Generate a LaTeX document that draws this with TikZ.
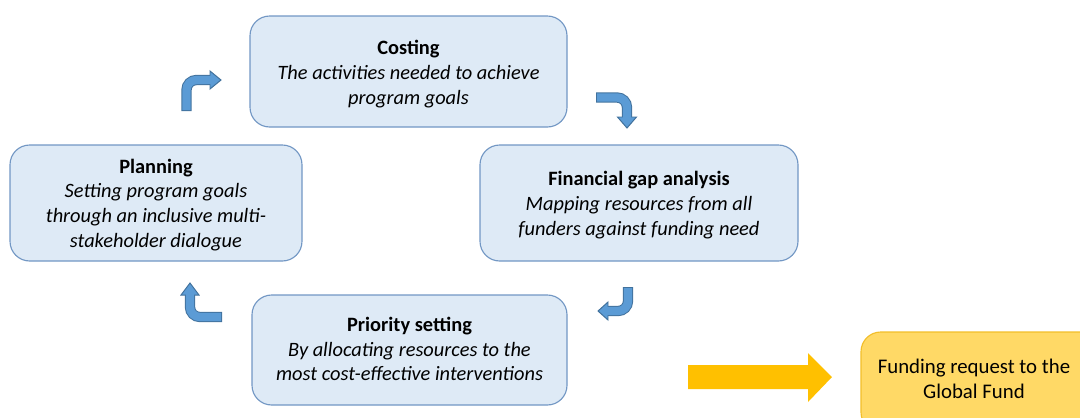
\documentclass[tikz,border=0pt]{standalone}
\usepackage{fontspec}
\setmainfont{Carlito}
\usepackage{xcolor}
\usetikzlibrary{calc,positioning}
\definecolor{stagefill}{HTML}{DEEAF6}
\definecolor{stageline}{HTML}{7297C4}
\definecolor{bendfill}{HTML}{5B9BD5}
\definecolor{bendline}{HTML}{41719C}
\definecolor{reqfill}{HTML}{FFD966}
\definecolor{reqline}{HTML}{F2BE2A}
\definecolor{reqarrow}{HTML}{FFC000}

\tikzset{
  stagebox/.style={draw=stageline, fill=stagefill, line width=0.8pt, rounded corners=14pt},
  stagetext/.style={align=center, font=\fontsize{14.5}{17.7}\selectfont},
  bendouter/.style={draw=bendline, line width=7.3pt, rounded corners=7pt},
  bendinner/.style={draw=bendfill, line width=5.9pt, rounded corners=7pt},
  bendhead/.style={fill=bendfill, draw=bendline, line width=0.7pt, line join=miter}
}

\begin{document}
\begin{tikzpicture}[x=0.025cm, y=-0.025cm]
  \useasboundingbox (0,0) rectangle (1080,417);
  \clip (0,0) rectangle (1080,417);

  % the four stages of the cycle
  \draw[stagebox] (250,16) rectangle (567,127);
  \node[stagetext] (costing) at (408.5,74)
    {\textbf{Costing}\\ \textit{The activities needed to achieve}\\ \textit{program goals}};
  \draw[stagebox] (480,145) rectangle (798,261);
  \node[stagetext] (fingap) at (639,205)
    {\textbf{Financial gap analysis}\\ \textit{Mapping resources from all}\\ \textit{funders against funding need}};
  \draw[stagebox] (252,295) rectangle (567,405);
  \node[stagetext] (priority) at (409.5,349)
    {\textbf{Priority setting}\\ \textit{By allocating resources to the}\\ \textit{most cost-effective interventions}};
  \draw[stagebox] (10,145) rectangle (302,261);
  \node[stagetext] (planning) at (156,205)
    {\textbf{Planning}\\ \textit{Setting program goals}\\ \textit{through an inclusive multi-}\\ \textit{stakeholder dialogue}};

  % bent arrows between the stages
  \coordinate (b1s) at (186.5,111); \coordinate (b1c) at (186.5,80); \coordinate (b1e) at (210,80);
  \coordinate (b2s) at (596,97.5);  \coordinate (b2c) at (627,97.5);  \coordinate (b2e) at (627,117);
  \coordinate (b3s) at (628,287);   \coordinate (b3c) at (628,311);   \coordinate (b3e) at (608,311);
  \coordinate (b4s) at (222,317);   \coordinate (b4c) at (190,317);   \coordinate (b4e) at (190,295);
  \foreach \i in {1,2,3,4}
    {\draw[bendouter] (b\i s) -- (b\i c) -- (b\i e);}
  \draw[bendhead] (210,71) -- (221,80) -- (210,89) -- cycle;
  \draw[bendhead] (617.5,117) -- (627,128) -- (636.5,117) -- cycle;
  \draw[bendhead] (608,302) -- (598,311) -- (608,320) -- cycle;
  \draw[bendhead] (181,295) -- (190,283) -- (199,295) -- cycle;
  \draw[bendinner] ($(b1s)+(0,-1)$) -- (b1c) -- ($(b1e)+(1,0)$);
  \draw[bendinner] ($(b2s)+(1,0)$) -- (b2c) -- ($(b2e)+(0,1)$);
  \draw[bendinner] ($(b3s)+(0,1)$) -- (b3c) -- ($(b3e)+(-1,0)$);
  \draw[bendinner] ($(b4s)+(-1,0)$) -- (b4c) -- ($(b4e)+(0,-1)$);

  % output of the cycle
  \fill[reqarrow] (688,365) -- (808,365) -- (808,353) -- (832,377)
    -- (808,402) -- (808,389) -- (688,389) -- cycle;
  \draw[draw=reqline, fill=reqfill, line width=0.8pt, rounded corners=14pt]
    (861,332) rectangle (1100,432);
  \node[align=center, font=\fontsize{14.8}{17.5}\selectfont] (request) at (974,379)
    {Funding request to the\\ Global Fund};
\end{tikzpicture}
\end{document}
